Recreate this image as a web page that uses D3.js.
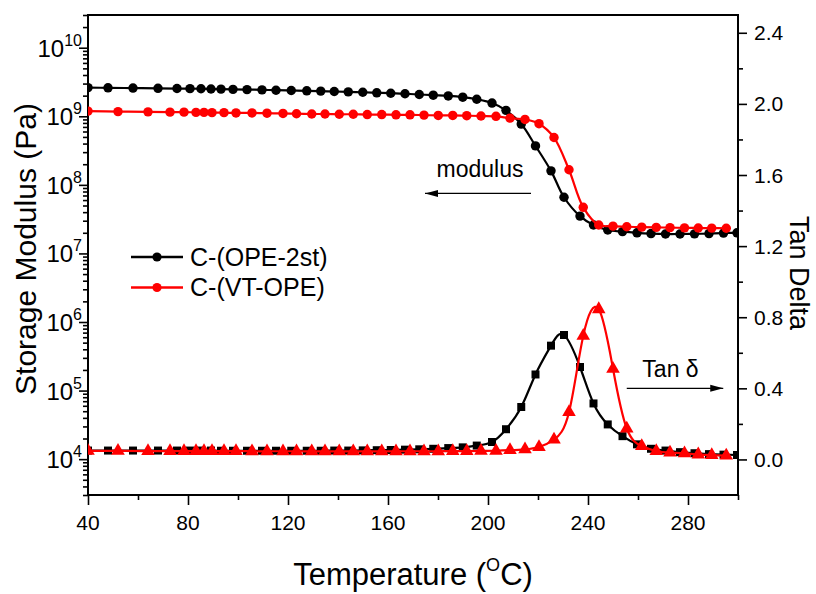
<!DOCTYPE html>
<html>
<head>
<meta charset="utf-8">
<script src="https://cdn.jsdelivr.net/npm/d3@7"></script>
<style>
body { margin: 0; background: #fff; }
text { font-family: "Liberation Sans", Arial, sans-serif; fill: #000; }
</style>
</head>
<body>
<script>
// C-(OPE-2st): temperature (C), storage modulus (Pa), tan delta
const tempOPE = [40, 48, 58, 68, 75.6, 80.8, 85.2, 89.2, 93.2, 98, 103.6, 109.6, 115.2, 121.3, 127.5,
	133.1, 138.5, 144.1, 149.9, 155.5, 161.1, 166.8, 172.5, 178.1, 184.1, 189.9, 195.5, 201.6, 207.2,
	213.3, 219, 225.2, 230.4, 236.8, 242.2, 247.9, 253.8, 259.6, 265.2, 271, 276.8, 282.6, 288.4, 294.2, 299.6];
const modOPE = [2.62e9, 2.6e9, 2.58e9, 2.56e9, 2.54e9, 2.53e9, 2.52e9, 2.5e9, 2.49e9, 2.47e9, 2.45e9, 2.43e9,
	2.4e9, 2.38e9, 2.35e9, 2.33e9, 2.3e9, 2.27e9, 2.24e9, 2.2e9, 2.17e9, 2.13e9, 2.08e9, 2.03e9, 1.98e9,
	1.9e9, 1.77e9, 1.56e9, 1.22e9, 7.7e8, 3.7e8, 1.6e8, 6.6e7, 3.5e7, 2.6e7, 2.2e7, 2.08e7, 2.0e7, 1.95e7,
	1.92e7, 1.92e7, 1.93e7, 1.95e7, 1.98e7, 2.0e7];
const tanOPE = [0.05, 0.05, 0.05, 0.05, 0.05, 0.05, 0.05, 0.05, 0.049, 0.049, 0.049, 0.049, 0.049, 0.049,
	0.049, 0.049, 0.05, 0.05, 0.051, 0.052, 0.053, 0.055, 0.057, 0.06, 0.064, 0.068, 0.078, 0.098, 0.17,
	0.295, 0.478, 0.64, 0.70, 0.52, 0.315, 0.197, 0.131, 0.085, 0.06, 0.05, 0.041, 0.035, 0.03, 0.027, 0.025];

// C-(VT-OPE)
const tempVT = [40, 52, 64, 72.8, 78.4, 83.2, 86.4, 89.6, 94.4, 99.2, 105.6, 111.6, 118, 123.4, 129.5,
	134.8, 140.5, 146.1, 151.7, 157.5, 163.2, 168.8, 174.4, 180.1, 185.9, 191.5, 197.2, 203.2, 208.8,
	214.8, 220.4, 226.4, 232.4, 238.1, 244.3, 250, 255.5, 261.5, 267.3, 272.8, 278.6, 284.1, 289.5, 295.3];
const modVT = [1.19e9, 1.17e9, 1.16e9, 1.15e9, 1.15e9, 1.14e9, 1.14e9, 1.13e9, 1.13e9, 1.12e9, 1.12e9,
	1.11e9, 1.1e9, 1.09e9, 1.08e9, 1.08e9, 1.07e9, 1.07e9, 1.06e9, 1.06e9, 1.05e9, 1.05e9, 1.04e9, 1.03e9,
	1.03e9, 1.02e9, 1.01e9, 1.0e9, 9.4e8, 9.0e8, 7.8e8, 4.9e8, 1.66e8, 4.7e7, 2.6e7, 2.5e7, 2.45e7, 2.42e7,
	2.4e7, 2.38e7, 2.36e7, 2.35e7, 2.34e7, 2.33e7];
const tanVT = [0.048, 0.048, 0.047, 0.047, 0.047, 0.047, 0.047, 0.047, 0.047, 0.047, 0.046, 0.046, 0.046,
	0.046, 0.045, 0.045, 0.045, 0.045, 0.045, 0.045, 0.046, 0.046, 0.046, 0.046, 0.047, 0.047, 0.048, 0.049,
	0.052, 0.057, 0.07, 0.112, 0.266, 0.695, 0.845, 0.51, 0.174, 0.075, 0.047, 0.038, 0.034, 0.028, 0.024, 0.022];

const seriesNames = ["C-(OPE-2st)", "C-(VT-OPE)"];
const seriesColors = ["#000000", "#ff0000"];

const xTicks = [40, 80, 120, 160, 200, 240, 280];
const xMinor = [60, 100, 140, 180, 220, 260, 300];
const modExponents = [4, 5, 6, 7, 8, 9, 10];
const tanTicks = [0.0, 0.4, 0.8, 1.2, 1.6, 2.0, 2.4];
const tanMinor = [0.2, 0.6, 1.0, 1.4, 1.8, 2.2];

const W = 816, H = 594;
const pLeft = 88, pRight = 738, pTop = 15, pBottom = 495;

const svg = d3.select("body").append("svg").attr("width", W).attr("height", H);

const x = d3.scaleLinear().domain([40, 300]).range([pLeft, pRight]);
const yMod = d3.scaleLog().domain([3e3, 3e10]).range([pBottom, pTop]);
const yTan = d3.scaleLinear().domain([-0.2, 2.5]).range([pBottom, pTop]);

svg.append("clipPath").attr("id", "plot")
	.append("rect").attr("x", pLeft).attr("y", pTop).attr("width", pRight - pLeft).attr("height", pBottom - pTop);

// axes: ticks only, frame drawn afterwards
function tickAxis(axis, size, tx, ty) {
	const g = svg.append("g").attr("transform", "translate(" + tx + "," + ty + ")")
		.call(axis.tickSize(size).tickFormat(""));
	g.select(".domain").remove();
	g.selectAll("line").attr("stroke", "#000").attr("stroke-width", 1.6);
	return g;
}

tickAxis(d3.axisBottom(x).tickValues(xTicks), 10, 0, pBottom);
tickAxis(d3.axisBottom(x).tickValues(xMinor), 5, 0, pBottom);

let modMinor = [];
for (let e = 3; e <= 10; e++)
	for (let k = 2; k <= 9; k++)
		if (k * Math.pow(10, e) >= 3e3 && k * Math.pow(10, e) <= 3e10) modMinor.push(k * Math.pow(10, e));
tickAxis(d3.axisLeft(yMod).tickValues(modExponents.map(e => Math.pow(10, e))), 9, pLeft, 0);
tickAxis(d3.axisLeft(yMod).tickValues(modMinor), 5, pLeft, 0);

tickAxis(d3.axisRight(yTan).tickValues(tanTicks), 9, pRight, 0);
tickAxis(d3.axisRight(yTan).tickValues(tanMinor), 5, pRight, 0);

svg.append("rect")
	.attr("x", pLeft).attr("y", pTop).attr("width", pRight - pLeft).attr("height", pBottom - pTop)
	.attr("fill", "none").attr("stroke", "#000").attr("stroke-width", 2);

// tick labels
svg.selectAll(".xlab").data(xTicks).enter().append("text")
	.attr("x", d => x(d)).attr("y", pBottom + 35)
	.attr("text-anchor", "middle").style("font-size", "21px")
	.text(d => d);

const modLab = svg.selectAll(".ylab").data(modExponents).enter().append("text")
	.attr("x", pLeft - 6).attr("y", d => yMod(Math.pow(10, d)) + 9)
	.attr("text-anchor", "end").style("font-size", "24px");
modLab.append("tspan").text("10");
modLab.append("tspan").attr("dy", -11).style("font-size", "16px").text(d => d);

svg.selectAll(".rlab").data(tanTicks).enter().append("text")
	.attr("x", pRight + 16).attr("y", d => yTan(d) + 7.5)
	.style("font-size", "21px")
	.text(d => d.toFixed(1));

// axis titles
svg.append("text")
	.attr("transform", "translate(36," + ((pTop + pBottom) / 2 - 6) + ") rotate(-90)")
	.attr("text-anchor", "middle").style("font-size", "30px")
	.text("Storage Modulus (Pa)");

svg.append("text")
	.attr("transform", "translate(790," + ((pTop + pBottom) / 2 + 18) + ") rotate(90)")
	.attr("text-anchor", "middle").style("font-size", "27px")
	.text("Tan Delta");

const xTitle = svg.append("text")
	.attr("x", (pLeft + pRight) / 2).attr("y", 585)
	.attr("text-anchor", "middle").style("font-size", "31px");
xTitle.append("tspan").text("Temperature (");
xTitle.append("tspan").attr("dy", -14).style("font-size", "18px").text("O");
xTitle.append("tspan").attr("dy", 14).text("C)");

// data
const plot = svg.append("g").attr("clip-path", "url(#plot)");

function drawSeries(temps, vals, yScale, color, curve, symbol, size) {
	const pts = temps.map((t, i) => [x(t), yScale(vals[i])]);
	plot.append("path")
		.attr("d", d3.line().curve(curve)(pts))
		.attr("fill", "none").attr("stroke", color).attr("stroke-width", 2.2);
	plot.selectAll(null).data(pts).enter().append("path")
		.attr("transform", d => "translate(" + d[0] + "," + d[1] + ")")
		.attr("d", d3.symbol().type(symbol).size(size))
		.attr("fill", color);
}

drawSeries(tempOPE, tanOPE, yTan, seriesColors[0], d3.curveNatural, d3.symbolSquare, 64);
drawSeries(tempVT, tanVT, yTan, seriesColors[1], d3.curveNatural, d3.symbolTriangle, 80);
drawSeries(tempOPE, modOPE, yMod, seriesColors[0], d3.curveCatmullRom, d3.symbolCircle, 70);
drawSeries(tempVT, modVT, yMod, seriesColors[1], d3.curveCatmullRom, d3.symbolCircle, 70);

// legend
const legend = svg.selectAll(".leg").data(seriesNames).enter().append("g")
	.attr("transform", (d, i) => "translate(131," + (257 + i * 30.5) + ")");
legend.append("line").attr("x1", 0).attr("x2", 52)
	.attr("stroke", (d, i) => seriesColors[i]).attr("stroke-width", 2.5);
legend.append("circle").attr("cx", 26).attr("r", 4.6).attr("fill", (d, i) => seriesColors[i]);
legend.append("text").attr("x", 59).attr("y", 8.5).style("font-size", "25px").text(d => d);

// annotations
function arrow(t1, t2, yv, yScale, headLeft) {
	const x1 = x(t1), x2 = x(t2), yy = yScale(yv);
	svg.append("line").attr("x1", x1).attr("x2", x2).attr("y1", yy).attr("y2", yy)
		.attr("stroke", "#000").attr("stroke-width", 1.2);
	const tip = headLeft ? x1 : x2, dir = headLeft ? 1 : -1;
	svg.append("path")
		.attr("d", "M" + tip + "," + yy + "L" + (tip + dir * 13) + "," + (yy - 3.5) +
			"L" + (tip + dir * 13) + "," + (yy + 3.5) + "Z")
		.attr("fill", "#000");
}

svg.append("text").attr("x", x(196.8)).attr("y", yMod(1.3e8))
	.attr("text-anchor", "middle").style("font-size", "23px").text("modulus");
arrow(174.8, 217.2, 7.5e7, yMod, true);

svg.append("text").attr("x", x(273)).attr("y", yTan(0.466))
	.attr("text-anchor", "middle").style("font-size", "23px").text("Tan \u03b4");
arrow(255.5, 294.1, 0.4, yTan, false);
</script>
</body>
</html>
